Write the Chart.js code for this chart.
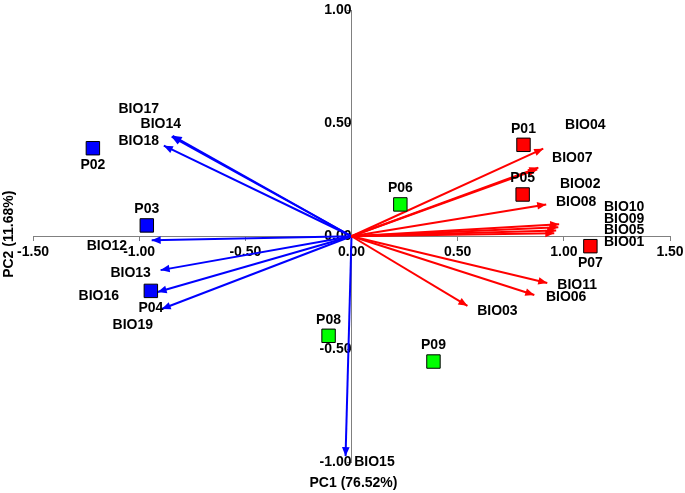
<!DOCTYPE html>
<html><head><meta charset="utf-8">
<script src="https://cdn.jsdelivr.net/npm/chart.js@4/dist/chart.umd.min.js"></script>
<style>html,body{margin:0;padding:0;background:#fff}</style>
</head><body>
<canvas id="c" width="685" height="493"></canvas>
<script>
// ---- data ----
const sites      = ['P01','P02','P03','P04','P05','P06','P07','P08','P09'];
const siteX      = [0.810,-1.218,-0.964,-0.945,0.806,0.230,1.125,-0.108,0.386];
const siteY      = [0.405, 0.390, 0.048,-0.242,0.185,0.141,-0.044,-0.441,-0.555];
const siteGroup  = ['red','blue','blue','blue','red','green','red','green','green'];
const siteLabelBelow = [false,true,false,true,false,false,true,false,false];

const variables  = ['BIO01','BIO02','BIO03','BIO04','BIO05','BIO06','BIO07','BIO08','BIO09','BIO10','BIO11','BIO12','BIO13','BIO14','BIO15','BIO16','BIO17','BIO18','BIO19'];
const varX       = [0.955,0.875,0.546,0.903,0.964,0.861,0.880,0.917,0.974,0.978,0.922,-0.941,-0.899,-0.847,-0.028,-0.913,-0.842,-0.884,-0.894];
const varY       = [0.013,0.296,-0.308,0.388,0.026,-0.260,0.304,0.141,0.040,0.053,-0.207,-0.018,-0.150,0.441,-0.974,-0.247,0.445,0.401,-0.322];
const varGroup   = ['red','red','red','red','red','red','red','red','red','red','red','blue','blue','blue','blue','blue','blue','blue','blue'];
// label anchors (plot units)
const varLabelX  = [1.284,1.077,0.687,1.101,1.284,1.011,1.040,1.058,1.284,1.284,1.063,-1.152,-1.040,-0.898,0.108,-1.190,-1.002,-1.002,-1.030];
const varLabelY  = [-0.026,0.229,-0.330,0.493,0.026,-0.269,0.348,0.150,0.075,0.128,-0.216,-0.044,-0.163,0.498,-1.000,-0.264,0.564,0.423,-0.392];

const xTicks = [-1.5,-1.0,-0.5,0.0,0.5,1.0,1.5];
const yTicks = [-1.0,-0.5,0.0,0.5,1.0];
const xTitle = 'PC1 (76.52%)';
const yTitle = 'PC2 (11.68%)';

// ---- style ----
const COLORS = {red:'#ff0000', blue:'#0000ff', green:'#00ff00'};
const FONT = '"Liberation Sans", Arial, sans-serif';
const AXIS = '#808080';

const datasets = [{
  label:'sites',
  data: sites.map((s,i)=>({x:siteX[i], y:siteY[i]})),
  pointStyle:'rect',
  pointRadius:9.5,
  pointHoverRadius:9.5,
  pointBackgroundColor: siteGroup.map(g=>COLORS[g]),
  pointBorderColor:'#000',
  pointBorderWidth:1,
  showLine:false
}];
variables.forEach((v,i)=>{
  datasets.push({
    label:v, isArrow:true,
    data:[{x:0,y:0},{x:varX[i],y:varY[i]}],
    showLine:true, borderColor:COLORS[varGroup[i]], borderWidth:2,
    pointRadius:0, pointHoverRadius:0, tension:0, fill:false
  });
});

const tickFont = {family:FONT, size:14, weight:'bold'};

const overlay = {
  id:'overlay',
  afterDatasetsDraw(chart){
    const ctx = chart.ctx, xs = chart.scales.x, ys = chart.scales.y;
    chart.data.datasets.forEach((ds)=>{
      if(!ds.isArrow) return;
      const p = ds.data[1];
      const tx = xs.getPixelForValue(p.x), ty = ys.getPixelForValue(p.y);
      const ox = xs.getPixelForValue(0), oy = ys.getPixelForValue(0);
      const a = Math.atan2(ty-oy, tx-ox);
      const L = 9, W = 3.8;
      ctx.save();
      ctx.fillStyle = ds.borderColor;
      ctx.beginPath();
      ctx.moveTo(tx,ty);
      ctx.lineTo(tx - L*Math.cos(a) + W*Math.sin(a), ty - L*Math.sin(a) - W*Math.cos(a));
      ctx.lineTo(tx - L*Math.cos(a) - W*Math.sin(a), ty - L*Math.sin(a) + W*Math.cos(a));
      ctx.closePath(); ctx.fill();
      ctx.restore();
    });
    ctx.save();
    ctx.fillStyle = '#000';
    ctx.font = 'bold 14px ' + FONT;
    ctx.textAlign = 'center'; ctx.textBaseline = 'middle';
    variables.forEach((v,i)=>{
      ctx.fillText(v, xs.getPixelForValue(varLabelX[i]), ys.getPixelForValue(varLabelY[i]));
    });
    sites.forEach((s,i)=>{
      const px = xs.getPixelForValue(siteX[i]), py = ys.getPixelForValue(siteY[i]);
      ctx.fillText(s, px, py + (siteLabelBelow[i] ? 17 : -16));
    });
    const ca = chart.chartArea;
    ctx.fillText(xTitle, (ca.left+ca.right)/2 + 2, ca.bottom + 21);
    ctx.translate(9, (ca.top+ca.bottom)/2 - 2);
    ctx.rotate(-Math.PI/2);
    ctx.fillText(yTitle, 0, 0);
    ctx.restore();
  }
};

const noPad = s => { s.paddingTop = 0; s.paddingBottom = 0; s.paddingLeft = 0; s.paddingRight = 0; };

new Chart(document.getElementById('c'), {
  type:'scatter',
  data:{datasets},
  options:{
    responsive:false, animation:false,
    layout:{padding:{left:33, right:15, top:7, bottom:31}},
    plugins:{legend:{display:false}, tooltip:{enabled:false}},
    scales:{
      x:{type:'linear', min:-1.5, max:1.5, position:{y:0},
        afterBuildTicks: s=>{ s.ticks = xTicks.map(v=>({value:v})); },
        afterFit: noPad,
        ticks:{callback:v=>Number(v).toFixed(2), font:tickFont, color:'#000', maxRotation:0, padding:3, autoSkip:false},
        grid:{drawOnChartArea:false, drawTicks:true, tickLength:4, color:AXIS},
        border:{display:true, color:AXIS, width:1}},
      y:{type:'linear', min:-1, max:1, position:{x:0},
        afterBuildTicks: s=>{ s.ticks = yTicks.map(v=>({value:v})); },
        afterFit: noPad,
        ticks:{callback:v=>Number(v).toFixed(2), font:tickFont, color:'#000', padding:3, autoSkip:false},
        grid:{drawOnChartArea:false, drawTicks:true, tickLength:4, color:AXIS},
        border:{display:true, color:AXIS, width:1}}
    }
  },
  plugins:[overlay]
});
</script>
</body></html>
